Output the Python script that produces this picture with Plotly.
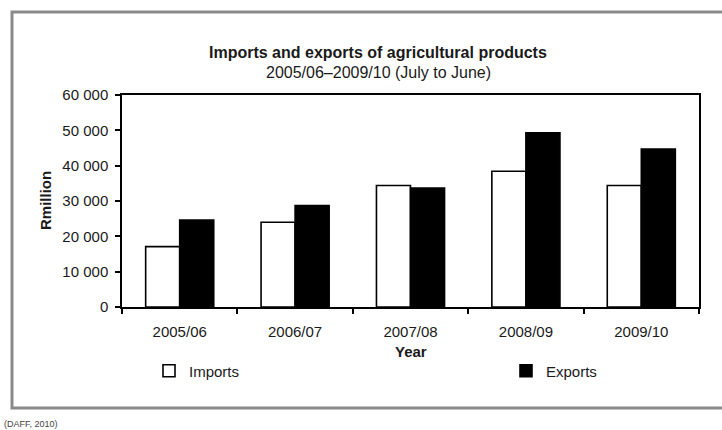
import plotly.graph_objects as go

# Financial years (July to June)
years = ["2005/06", "2006/07", "2007/08", "2008/09", "2009/10"]
# Values in R million
imports = [17100, 24000, 34400, 38400, 34400]
exports = [24600, 28700, 33700, 49300, 44700]

FONT = "Liberation Sans, Arial, sans-serif"

# Plot area in pixels (for converting page positions to paper coordinates)
W, H = 722, 430
L, R, T, B = 122, 699, 95, 307


def px(x):
    return (x - L) / (R - L)


def py(y):
    return (B - y) / (B - T)


fig = go.Figure()
fig.add_trace(go.Bar(
    x=years, y=imports, name="Imports",
    marker=dict(color="white", line=dict(color="black", width=1.6)),
    legend="legend",
))
fig.add_trace(go.Bar(
    x=years, y=exports, name="Exports",
    marker=dict(color="black", line=dict(color="black", width=1.6)),
    legend="legend2",
))

legend_style = dict(
    orientation="h", bgcolor="rgba(0,0,0,0)", yanchor="middle",
    font=dict(family=FONT, size=15, color="#1a1a1a"),
    itemwidth=30,
)

fig.update_layout(
    width=W, height=H,
    margin=dict(l=L, r=W - R, t=T, b=H - B),
    paper_bgcolor="white", plot_bgcolor="white",
    barmode="group", bargap=0.41, bargroupgap=0,
    separators=". ",
    font=dict(family=FONT, size=15, color="#1a1a1a"),
    showlegend=True,
    legend=dict(x=px(149), y=py(371), xanchor="left", **legend_style),
    legend2=dict(x=px(506), y=py(371), xanchor="left", **legend_style),
    xaxis=dict(
        type="category", tickson="boundaries", ticks="outside", ticklen=5,
        tickwidth=1.5, tickcolor="black", ticklabelstandoff=10,
        showline=True, linecolor="black", linewidth=1.5, mirror=True,
        showgrid=False, tickfont=dict(size=15, color="#1a1a1a"),
    ),
    yaxis=dict(
        range=[0, 60000], dtick=10000, tickformat=",d",
        ticks="outside", ticklen=5, tickwidth=1.5, tickcolor="black",
        ticklabelstandoff=4,
        showline=True, linecolor="black", linewidth=1.5, mirror=True,
        showgrid=False, zeroline=False, tickfont=dict(size=15, color="#1a1a1a"),
    ),
)

# Outer frame around the whole figure
fig.add_shape(
    type="rect", xref="paper", yref="paper",
    x0=px(12), x1=px(735), y0=py(408), y1=py(12),
    line=dict(color="#8a8a8a", width=3), fillcolor="rgba(0,0,0,0)",
    layer="below",
)

annotations = [
    dict(text="<b>Imports and exports of agricultural products</b>",
         x=px(378), y=py(53), size=16),
    dict(text="2005/06\u20132009/10 (July to June)",
         x=px(378), y=py(72), size=16),
    dict(text="<b>Year</b>", x=px(411), y=py(351), size=15),
]
for a in annotations:
    fig.add_annotation(
        text=a["text"], x=a["x"], y=a["y"], xref="paper", yref="paper",
        xanchor="center", yanchor="middle", showarrow=False,
        font=dict(family=FONT, size=a["size"], color="#1a1a1a"),
    )

fig.add_annotation(
    text="<b>Rmillion</b>", x=px(45), y=0.5, xref="paper", yref="paper",
    xanchor="center", yanchor="middle", textangle=-90, showarrow=False,
    font=dict(family=FONT, size=15, color="#1a1a1a"),
)
fig.add_annotation(
    text="(DAFF, 2010)", x=px(2), y=py(424), xref="paper", yref="paper",
    xanchor="left", yanchor="middle", showarrow=False,
    font=dict(family=FONT, size=9, color="#444"),
)

fig.write_html("out.html")
